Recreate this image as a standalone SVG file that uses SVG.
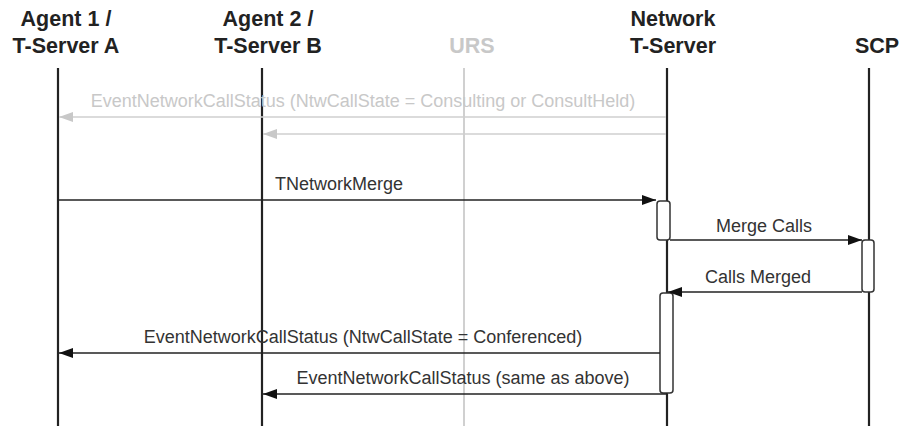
<svg xmlns="http://www.w3.org/2000/svg" width="902" height="426" viewBox="0 0 902 426">
<style>
.hd{font-family:"Liberation Sans",Arial,sans-serif;font-weight:bold;font-size:21.5px;fill:#222;text-anchor:middle}
.hdg{fill:#c8c8c8}
.lb{font-family:"Liberation Sans",Arial,sans-serif;font-size:18px;fill:#333;text-anchor:middle}
.lbg{fill:#c8c8c8}
.life{stroke:#222;stroke-width:2.2;fill:none}
.lifeg{stroke:#d0d0d0;stroke-width:2}
.msg{stroke:#222;stroke-width:1.6;fill:none}
.msgg{stroke:#cfcfcf;stroke-width:1.6;fill:none}
.act{fill:#fff;stroke:#333;stroke-width:1.5}
</style>
<defs>
<marker id="ah" viewBox="0 0 14 10" refX="14" refY="5" markerWidth="14" markerHeight="10" markerUnits="userSpaceOnUse" orient="auto"><path d="M0,0 L14,5 L0,10 Z" fill="#111"/></marker>
<marker id="ahg" viewBox="0 0 14 10" refX="14" refY="5" markerWidth="14" markerHeight="10" markerUnits="userSpaceOnUse" orient="auto"><path d="M0,0 L14,5 L0,10 Z" fill="#c8c8c8"/></marker>
</defs>
<g id="agent1"><text class="hd" x="66" y="26">Agent 1 /</text><text class="hd" x="66" y="53">T-Server A</text><line class="life" x1="58" y1="68" x2="58" y2="426"/></g>
<g id="agent2"><text class="hd" x="268" y="26">Agent 2 /</text><text class="hd" x="268" y="53">T-Server B</text><line class="life" x1="262" y1="68" x2="262" y2="426"/></g>
<g id="urs"><text class="hd hdg" x="472" y="53">URS</text><line class="lifeg" x1="464" y1="68" x2="464" y2="426"/></g>
<g id="network"><text class="hd" x="673" y="26">Network</text><text class="hd" x="673" y="53">T-Server</text><line class="life" x1="667" y1="68" x2="667" y2="426"/>
<rect class="act" x="657" y="201" width="13" height="39" rx="3"/>
<rect class="act" x="660" y="293" width="13" height="100" rx="3"/></g>
<g id="scp"><text class="hd" x="877" y="53">SCP</text><line class="life" x1="869" y1="68" x2="869" y2="426"/>
<rect class="act" x="862" y="240" width="12" height="52" rx="3"/></g>
<g id="connectors">
<line class="msgg" x1="666" y1="117" x2="59" y2="117" marker-end="url(#ahg)"/>
<text class="lb lbg" x="363" y="107">EventNetworkCallStatus (NtwCallState = Consulting or ConsultHeld)</text>
<line class="msgg" x1="666" y1="134" x2="263" y2="134" marker-end="url(#ahg)"/>
<line class="msg" x1="58" y1="200" x2="656" y2="200" marker-end="url(#ah)"/>
<text class="lb" x="339" y="190">TNetworkMerge</text>
<line class="msg" x1="670" y1="240" x2="862" y2="240" marker-end="url(#ah)"/>
<text class="lb" x="764" y="232">Merge Calls</text>
<line class="msg" x1="862" y1="292" x2="668" y2="292" marker-end="url(#ah)"/>
<text class="lb" x="758" y="283">Calls Merged</text>
<line class="msg" x1="660" y1="353" x2="59" y2="353" marker-end="url(#ah)"/>
<text class="lb" x="363" y="343">EventNetworkCallStatus (NtwCallState = Conferenced)</text>
<line class="msg" x1="667" y1="394" x2="263" y2="394" marker-end="url(#ah)"/>
<text class="lb" x="463" y="384">EventNetworkCallStatus (same as above)</text>
</g>
</svg>
